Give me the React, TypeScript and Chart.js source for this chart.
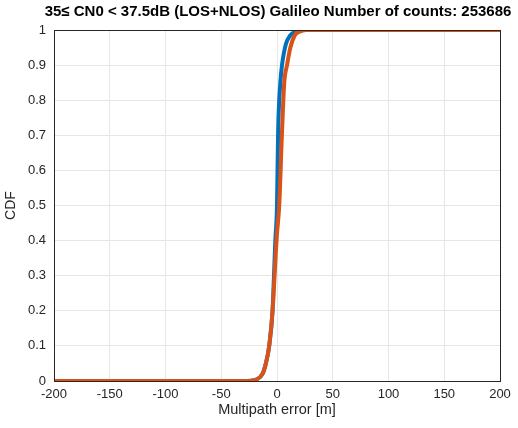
import React, { useEffect, useRef } from "react";
import { Chart, registerables } from "chart.js";

Chart.register(...registerables);

const TITLE = "35\u2264 CN0 < 37.5dB (LOS+NLOS) Galileo Number of counts: 253686";
const X_LABEL = "Multipath error [m]";
const Y_LABEL = "CDF";

const blueX = [-200, -30, -18, -13, -10, -7, -4, -2.7, -1.5, 0, 1, 3, 4.5, 8, 12, 16, 22, 200];
const blueY = [0, 0, 0.005, 0.02, 0.05, 0.1, 0.2, 0.3, 0.4, 0.5, 0.71, 0.85, 0.9, 0.96, 0.985, 0.995, 1, 1];

const orangeX = [-200, -30, -18, -13, -10, -7, -4, -2.5, -1, 0, 2, 4.5, 6.5, 9, 12, 16, 20, 26, 200];
const orangeY = [0, 0, 0.005, 0.02, 0.05, 0.1, 0.2, 0.28, 0.37, 0.42, 0.5, 0.71, 0.85, 0.9, 0.95, 0.985, 0.995, 1, 1];

const toPts = (xs: number[], ys: number[]) => xs.map((x, i) => ({ x, y: ys[i] }));

const boxPlugin = {
  id: "box",
  afterDraw(chart: any) {
    const { ctx, chartArea } = chart;
    ctx.save();
    ctx.strokeStyle = "#262626";
    ctx.lineWidth = 1;
    ctx.strokeRect(chartArea.left + 0.5, chartArea.top + 0.5, chartArea.right - chartArea.left, chartArea.bottom - chartArea.top);
    ctx.fillStyle = "#000";
    ctx.font = "bold 15px 'Liberation Sans'";
    ctx.textAlign = "center";
    ctx.textBaseline = "middle";
    ctx.fillText(TITLE, (chartArea.left + chartArea.right) / 2 + 1, 12);
    ctx.restore();
  },
};

export default function App() {
  const ref = useRef<HTMLCanvasElement>(null);
  useEffect(() => {
    document.body.style.margin = "0";
    const chart = new Chart(ref.current!, {
      type: "line",
      data: {
        datasets: [
          {
            label: "orange",
            data: toPts(orangeX, orangeY),
            borderColor: "#D95319",
            borderWidth: 4,
            pointRadius: 0,
            cubicInterpolationMode: "monotone",
          },
          {
            label: "blue",
            data: toPts(blueX, blueY),
            borderColor: "#0072BD",
            borderWidth: 4,
            pointRadius: 0,
            cubicInterpolationMode: "monotone",
          },
        ],
      },
      options: {
        responsive: false,
        animation: false,
        layout: { padding: { left: 0, right: 18, top: 30, bottom: 0 } },
        plugins: {
          legend: { display: false },
          tooltip: { enabled: false },
          title: { display: false },
        },
        scales: {
          x: {
            type: "linear",
            min: -200,
            max: 200,
            ticks: {
              stepSize: 50,
              color: "#262626",
              font: { family: "Liberation Sans", size: 13 },
              padding: 6,
            },
            grid: { color: "#e6e6e6", drawTicks: false },
            border: { display: false },
            title: {
              display: true,
              text: X_LABEL,
              color: "#262626",
              font: { family: "Liberation Sans", size: 14.5 },
              padding: { top: 0, bottom: 9 },
            },
            afterFit: (s: any) => {
              s.height = 47;
            },
          },
          y: {
            min: 0,
            max: 1,
            ticks: {
              stepSize: 0.1,
              color: "#262626",
              font: { family: "Liberation Sans", size: 13 },
              padding: 8,
              callback: (v: any) => String(Math.round(Number(v) * 10) / 10),
            },
            grid: { color: "#e6e6e6", drawTicks: false },
            border: { display: false },
            title: {
              display: true,
              text: Y_LABEL,
              color: "#262626",
              font: { family: "Liberation Sans", size: 14 },
              padding: { top: 3, bottom: 2 },
            },
            afterFit: (s: any) => {
              s.width = 54;
            },
          },
        },
      },
      plugins: [boxPlugin],
    } as any);
    return () => chart.destroy();
  }, []);
  return (
    <div style={{ width: 518, height: 428, background: "#fff" }}>
      <canvas ref={ref} width={518} height={428} />
    </div>
  );
}
